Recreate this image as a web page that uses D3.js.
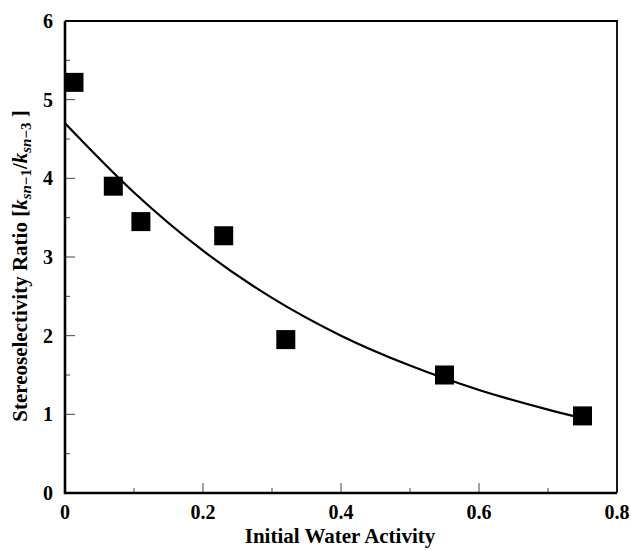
<!DOCTYPE html>
<html>
<head>
<meta charset="utf-8">
<script src="https://cdn.jsdelivr.net/npm/d3@7"></script>
<style>
  html, body { margin: 0; padding: 0; background: #fff; }
  text { font-family: "Liberation Serif", "Times New Roman", serif; font-weight: bold; fill: #000; }
</style>
</head>
<body>
<div id="viz"></div>
<script>
// measured points
const waterActivity = [0.013, 0.07, 0.11, 0.23, 0.32, 0.55, 0.75];
const selectivity = [5.22, 3.90, 3.45, 3.27, 1.95, 1.50, 0.98];

// fitted curve
const fitX = [0, 0.1, 0.2, 0.3, 0.4, 0.5, 0.6, 0.7, 0.75];
const fitY = [4.70, 3.82, 3.08, 2.48, 2.00, 1.62, 1.31, 1.06, 0.95];

const xTicks = [0, 0.2, 0.4, 0.6, 0.8];
const yTicks = [0, 1, 2, 3, 4, 5, 6];

const W = 631, H = 550;
const margin = {top: 21, right: 14, bottom: 57, left: 65};

const svg = d3.select('#viz').append('svg')
  .attr('width', W).attr('height', H);

const x = d3.scaleLinear().domain([0, 0.8]).range([margin.left, W - margin.right]);
const y = d3.scaleLinear().domain([0, 6]).range([H - margin.bottom, margin.top]);

// ticks pointing inward (major + minor)
const g = svg.append('g');
const xMinor = d3.range(0.1, 0.8, 0.2);
const yMinor = d3.range(0.5, 6, 1);

g.selectAll('.xt').data(xTicks.slice(1, -1)).join('line')
  .attr('x1', d => x(d)).attr('x2', d => x(d))
  .attr('y1', y(0)).attr('y2', y(0) - 10)
  .attr('stroke', '#444').attr('stroke-width', 1);
g.selectAll('.xm').data(xMinor).join('line')
  .attr('x1', d => x(d)).attr('x2', d => x(d))
  .attr('y1', y(0)).attr('y2', y(0) - 5)
  .attr('stroke', '#444').attr('stroke-width', 1);
g.selectAll('.yt').data(yTicks.slice(1, -1)).join('line')
  .attr('x1', x(0)).attr('x2', x(0) + 10)
  .attr('y1', d => y(d)).attr('y2', d => y(d))
  .attr('stroke', '#444').attr('stroke-width', 1);
g.selectAll('.ym').data(yMinor).join('line')
  .attr('x1', x(0)).attr('x2', x(0) + 5)
  .attr('y1', d => y(d)).attr('y2', d => y(d))
  .attr('stroke', '#444').attr('stroke-width', 1);

// fit curve
const line = d3.line()
  .x((d, i) => x(fitX[i]))
  .y(d => y(d))
  .curve(d3.curveMonotoneX);
svg.append('path')
  .datum(fitY)
  .attr('d', line)
  .attr('fill', 'none')
  .attr('stroke', '#000')
  .attr('stroke-width', 2.2);

// square markers
const s = 19;
svg.selectAll('.pt').data(waterActivity).join('rect')
  .attr('x', d => x(d) - s / 2)
  .attr('y', (d, i) => y(selectivity[i]) - s / 2)
  .attr('width', s).attr('height', s)
  .attr('fill', '#000');

// frame
svg.append('path')
  .attr('d', `M${x(0)},${y(6)}H${x(0.8)}V${y(0)}`)
  .attr('fill', 'none').attr('stroke', '#000').attr('stroke-width', 1.8);
svg.append('path')
  .attr('d', `M${x(0)},${y(6)}V${y(0)}H${x(0.8)}`)
  .attr('fill', 'none').attr('stroke', '#000').attr('stroke-width', 2.6);

// tick labels
svg.selectAll('.xl').data(xTicks).join('text')
  .attr('x', d => x(d)).attr('y', 519)
  .attr('text-anchor', 'middle')
  .style('font-size', '20px')
  .text(d => d === 0 ? '0' : d.toFixed(1));
svg.selectAll('.yl').data(yTicks).join('text')
  .attr('x', 53).attr('y', d => y(d) + 7)
  .attr('text-anchor', 'end')
  .style('font-size', '20px')
  .text(d => d);

// axis titles
svg.append('text')
  .attr('x', 340).attr('y', 543)
  .attr('text-anchor', 'middle')
  .style('font-size', '21px')
  .text('Initial Water Activity');

const yt = svg.append('text')
  .attr('transform', 'translate(27,266) rotate(-90)')
  .attr('text-anchor', 'middle')
  .style('font-size', '21px');
yt.append('tspan').text('Stereoselectivity Ratio [');
yt.append('tspan').style('font-style', 'italic').text('k');
yt.append('tspan').attr('dy', 4).style('font-size', '15px').style('font-style', 'italic').text('sn');
yt.append('tspan').style('font-size', '15px').text('\u22121');
yt.append('tspan').attr('dy', -4).text('/');
yt.append('tspan').style('font-style', 'italic').text('k');
yt.append('tspan').attr('dy', 4).style('font-size', '15px').style('font-style', 'italic').text('sn');
yt.append('tspan').style('font-size', '15px').text('\u22123');
yt.append('tspan').attr('dy', -4).text(' ]');
</script>
</body>
</html>
